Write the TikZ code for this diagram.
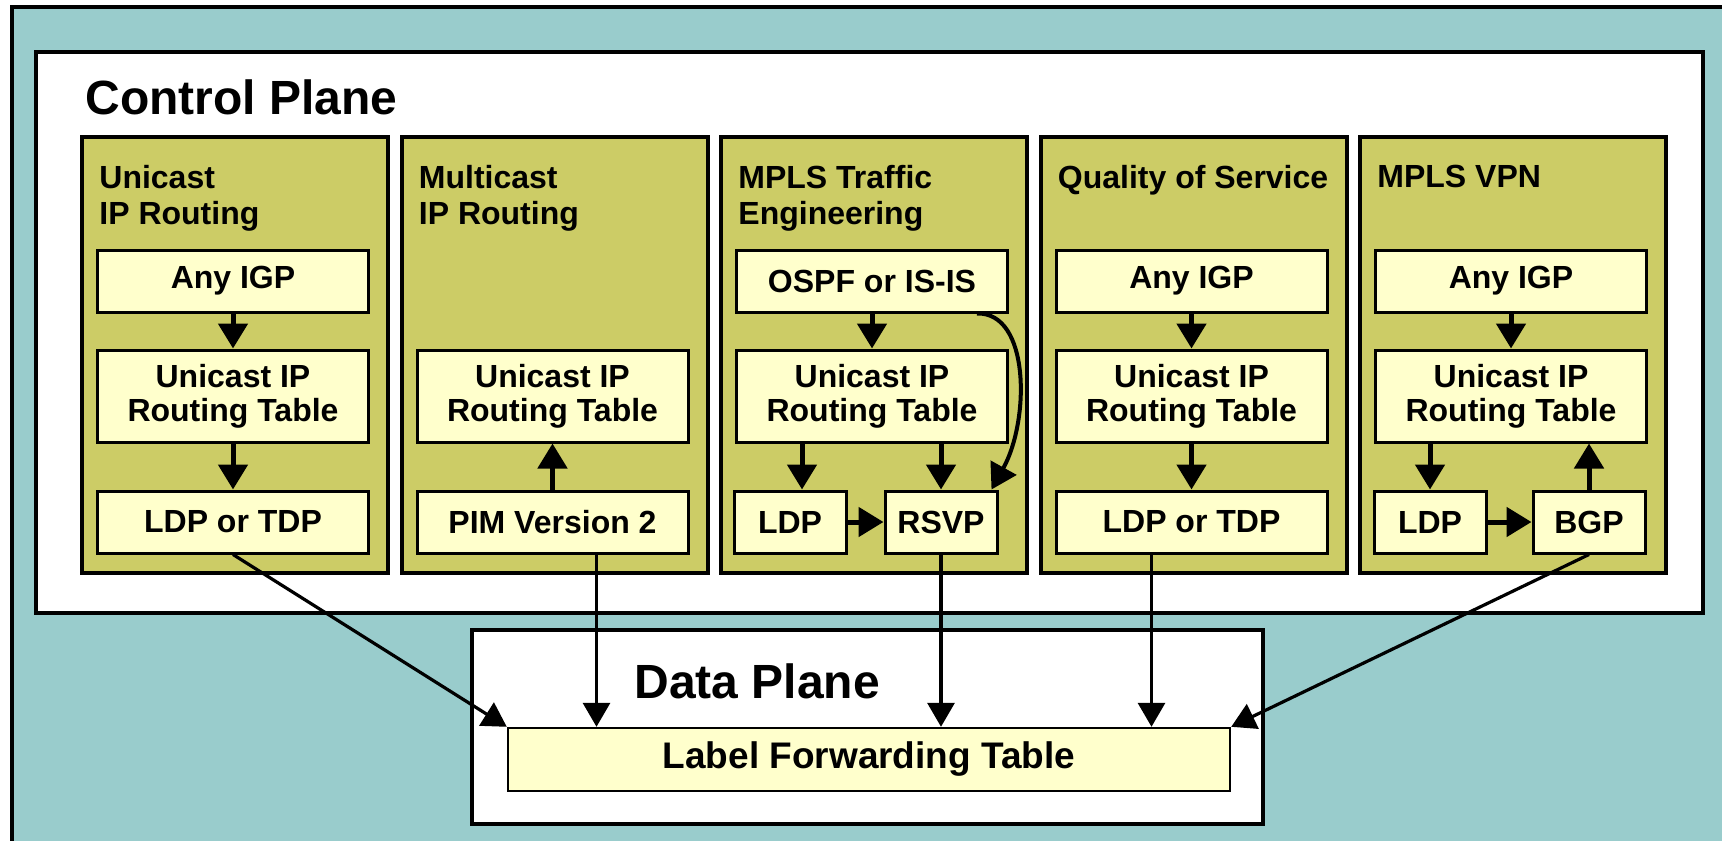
\documentclass[tikz,border=0pt]{standalone}
\usepackage{fontspec}
\setmainfont{Liberation Sans}
\usepackage{xcolor}
\usetikzlibrary{arrows.meta}
\definecolor{tealbg}{HTML}{99CCCC}
\definecolor{olivebg}{HTML}{CCCC66}
\definecolor{cream}{HTML}{FFFFCC}

\begin{document}
\begin{tikzpicture}[x=0.5pt,y=-0.5pt,
        plane/.style={draw,line width=2pt,fill=white},
        colbox/.style={draw,line width=2pt,fill=olivebg,minimum width=153pt,
          minimum height=218pt,inner sep=0pt,anchor=north west},
        coltitle/.style={anchor=north west,inner sep=0pt,align=left,
          font=\fontsize{16}{18}\selectfont\bfseries},
        box/.style={draw,line width=1.5pt,fill=cream,minimum width=135.5pt,
          minimum height=31pt,inner sep=0pt,align=center,
          font=\fontsize{16}{17}\selectfont\bfseries},
        tablebox/.style={box,minimum height=46pt},
        smallbox/.style={box,minimum width=56pt},
        arr/.style={line width=2.5pt,-{Triangle[length=12.5pt,width=14.5pt]}},
        thinarr/.style={line width=1.6pt,-{Triangle[length=12pt,width=13.5pt]}}]
        \useasboundingbox (0,0) rectangle (1722,840);
        \draw[line width=2pt,fill=tealbg] (12,7) rectangle (1760,880);
        % control plane
        \draw[plane] (36,52) rectangle (1703,613);
        \node[anchor=west,inner sep=0pt,font=\fontsize{24}{26}\selectfont\bfseries]
          (cptitle) at (85,97) {Control Plane};
        \foreach \i/\t in {1/{Unicast\\IP Routing},2/{Multicast\\IP Routing},
          3/{MPLS Traffic\\Engineering},4/{Quality of Service},5/{MPLS VPN}}
        {
          \node[colbox] (col\i) at ({80+319.5*(\i-1)},135) {};
          \node[coltitle] (title\i) at ([shift={(19,30)}]col\i.north west) {\t};
        }
        % unicast
        \node[box] (any1) at (233,281) {Any IGP};
        \node[tablebox] (rt1) at (233,396) {Unicast IP\\Routing Table};
        \node[box] (ldp1) at (233,522) {LDP or TDP};
        % multicast
        \node[tablebox] (rt2) at (552.5,396) {Unicast IP\\Routing Table};
        \node[box] (pim2) at (552.5,522) {PIM Version 2};
        % traffic engineering
        \node[box] (ospf3) at (872,281) {OSPF or IS-IS};
        \node[tablebox] (rt3) at (872,396) {Unicast IP\\Routing Table};
        \node[smallbox] (ldp3) at (790,522) {LDP};
        \node[smallbox] (rsvp3) at (941,522) {RSVP};
        % qos
        \node[box] (any4) at (1191.5,281) {Any IGP};
        \node[tablebox] (rt4) at (1191.5,396) {Unicast IP\\Routing Table};
        \node[box] (ldp4) at (1191.5,522) {LDP or TDP};
        % vpn
        \node[box] (any5) at (1511,281) {Any IGP};
        \node[tablebox] (rt5) at (1511,396) {Unicast IP\\Routing Table};
        \node[smallbox] (ldp5) at (1430,522) {LDP};
        \node[smallbox] (bgp5) at (1589,522) {BGP};

        \draw[arr] (any1) -- (rt1);
        \draw[arr] (rt1) -- (ldp1);
        \draw[arr] (pim2) -- (rt2);
        \draw[arr] (ospf3) -- (rt3);
        \draw[arr] ([xshift=6pt]ldp3.north |- rt3.south) -- ([xshift=6pt]ldp3.north);
        \draw[arr] (rsvp3.north |- rt3.south) -- (rsvp3.north);
        \draw[arr] (ldp3) -- (rsvp3);
        \draw[arr,line width=2pt] ([xshift=-16pt]ospf3.south east) .. controls (1030,312) and (1030,420) .. ([xshift=-3.5pt]rsvp3.north east);
        \draw[arr] (any4) -- (rt4);
        \draw[arr] (rt4) -- (ldp4);
        \draw[arr] (any5) -- (rt5);
        \draw[arr] (ldp5.north |- rt5.south) -- (ldp5.north);
        \draw[arr] (ldp5) -- (bgp5);
        \draw[arr] (bgp5.north) -- (bgp5.north |- rt5.south);

        % data plane
        \draw[plane] (472,630) rectangle (1263,824);
        \node[anchor=west,inner sep=0pt,font=\fontsize{24}{26}\selectfont\bfseries]
          (dptitle) at (634,681) {Data Plane};
        \node[box,line width=1.2pt,minimum width=361pt,minimum height=31.5pt,
          font=\fontsize{18.5}{20}\selectfont\bfseries]
          (lft) at (869,759.5) {Label Forwarding Table};

        \draw[thinarr] (ldp1.south) -- (lft.north west);
        \draw[thinarr] ([xshift=22pt]pim2.south) -- ([xshift=22pt]pim2.south |- lft.north);
        \draw[thinarr] (rsvp3.south) -- (rsvp3.south |- lft.north);
        \draw[thinarr] ([xshift=-20pt]ldp4.south) -- ([xshift=-20pt]ldp4.south |- lft.north);
        \draw[thinarr] (bgp5.south) -- (lft.north east);
\end{tikzpicture}
\end{document}
